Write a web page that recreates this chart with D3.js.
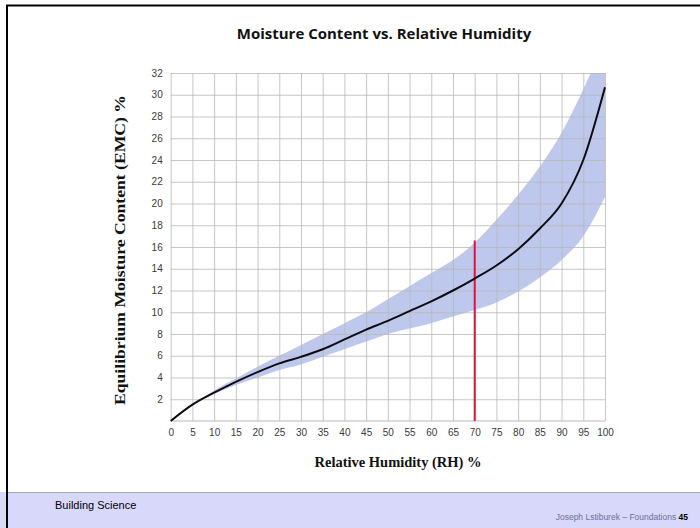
<!DOCTYPE html>
<html>
<head>
<meta charset="utf-8">
<script src="https://cdn.jsdelivr.net/npm/d3@7"></script>
<style>
  html, body { margin: 0; padding: 0; background: #fff; }
  svg { display: block; }
</style>
</head>
<body>
<div id="wrapper"></div>
<script>
// relative humidity (x) and equilibrium moisture content (y)
const rhValues = [0, 5, 10, 15, 20, 25, 30, 35, 40, 45, 50, 55, 60, 65, 70, 75, 80, 85, 90, 95, 100]
const emcValues = [0, 1.5, 2.6, 3.6, 4.5, 5.3, 5.9, 6.6, 7.5, 8.4, 9.2, 10.1, 11.0, 12.0, 13.1, 14.3, 15.8, 17.7, 20.0, 24.0, 30.7]

// shaded range around the curve
const bandRh = [8, 10, 15, 20, 25, 30, 35, 40, 45, 50, 55, 60, 65, 70, 75, 80, 85, 90, 95, 100]
const bandUpper = [2.3, 2.8, 3.9, 5.0, 6.0, 7.0, 8.0, 9.0, 10.0, 11.2, 12.4, 13.6, 14.8, 16.4, 18.5, 20.8, 23.4, 26.5, 30.5, 35]
const bandLower = [2.2, 2.5, 3.3, 4.0, 4.7, 5.2, 5.9, 6.6, 7.3, 8.0, 8.5, 9.0, 9.6, 10.2, 10.9, 11.9, 13.2, 14.8, 17.0, 20.6]

const markerRh = 70
const markerTop = 16.6

const xTicks = d3.range(0, 101, 5)
const yTicks = d3.range(2, 33, 2)

const dimensions = {
    width: 700,
    height: 528,
    plotLeft: 170.7,
    plotRight: 605,
    plotTop: 73,
    plotBottom: 421,
}

const svg = d3.select("#wrapper")
              .append("svg")
              .attr("width", dimensions.width)
              .attr("height", dimensions.height)

// slide frame + footer
svg.append("rect")
   .attr("x", 0).attr("y", 492)
   .attr("width", dimensions.width).attr("height", 36)
   .attr("fill", "#d8d8fb")
svg.append("line")
   .attr("x1", 7).attr("x2", dimensions.width)
   .attr("y1", 492.5).attr("y2", 492.5)
   .attr("stroke", "#a7a7c6").attr("stroke-width", 1)
svg.append("path")
   .attr("d", `M7,528 V5.5 H${dimensions.width}`)
   .attr("fill", "none")
   .attr("stroke", "#000").attr("stroke-width", 2)

svg.append("text")
   .attr("x", 55).attr("y", 509)
   .attr("font-family", "Liberation Sans, Arial, sans-serif")
   .attr("font-size", 11)
   .attr("fill", "#000")
   .text("Building Science")

const footerRight = svg.append("text")
   .attr("x", 688).attr("y", 520)
   .attr("text-anchor", "end")
   .attr("font-family", "Liberation Sans, Arial, sans-serif")
   .attr("font-size", 8.5)
footerRight.append("tspan").attr("fill", "#6e6e98").text("Joseph Lstiburek – Foundations  ")
footerRight.append("tspan").attr("fill", "#000").attr("font-weight", "bold").text("45")

// chart
const xScale = d3.scaleLinear()
                 .domain([0, 100])
                 .range([dimensions.plotLeft, dimensions.plotRight])

const yScale = d3.scaleLinear()
                 .domain([0, 32])
                 .range([dimensions.plotBottom, dimensions.plotTop])

svg.append("defs").append("clipPath")
   .attr("id", "plot-clip")
   .append("rect")
   .attr("x", dimensions.plotLeft)
   .attr("y", dimensions.plotTop)
   .attr("width", dimensions.plotRight - dimensions.plotLeft)
   .attr("height", dimensions.plotBottom - dimensions.plotTop)

// band (drawn under the grid so the lines show through)
const bandData = bandRh.map((rh, i) => ({rh, lo: bandLower[i], hi: bandUpper[i]}))
const area = d3.area()
               .x(d => xScale(d.rh))
               .y0(d => yScale(d.lo))
               .y1(d => yScale(d.hi))
               .curve(d3.curveMonotoneX)

svg.append("path")
   .datum(bandData)
   .attr("clip-path", "url(#plot-clip)")
   .attr("d", area)
   .attr("fill", "#bec8ec")

// grid
const xGrid = svg.append("g")
   .attr("transform", `translate(0, ${dimensions.plotBottom})`)
   .call(d3.axisBottom(xScale).tickValues(xTicks)
           .tickSize(-(dimensions.plotBottom - dimensions.plotTop))
           .tickPadding(8).tickFormat(d3.format("d")))
xGrid.select(".domain").remove()
xGrid.selectAll(".tick line").attr("stroke", "#b8b8b8").attr("stroke-opacity", 0.8)
xGrid.selectAll(".tick text")
     .attr("fill", "#3a3a3a")
     .attr("font-family", "Liberation Sans, Arial, sans-serif")
     .attr("font-size", 10)

const yGrid = svg.append("g")
   .attr("transform", `translate(${dimensions.plotLeft}, 0)`)
   .call(d3.axisLeft(yScale).tickValues(yTicks)
           .tickSize(-(dimensions.plotRight - dimensions.plotLeft))
           .tickPadding(8).tickFormat(d3.format("d")))
yGrid.select(".domain").remove()
yGrid.selectAll(".tick line").attr("stroke", "#b8b8b8").attr("stroke-opacity", 0.8)
yGrid.selectAll(".tick text")
     .attr("fill", "#3a3a3a")
     .attr("font-family", "Liberation Sans, Arial, sans-serif")
     .attr("font-size", 10)

svg.append("line")
   .attr("x1", dimensions.plotLeft).attr("x2", dimensions.plotRight)
   .attr("y1", dimensions.plotBottom).attr("y2", dimensions.plotBottom)
   .attr("stroke", "#b8b8b8")

// red marker
svg.append("line")
   .attr("x1", xScale(markerRh)).attr("x2", xScale(markerRh))
   .attr("y1", yScale(0)).attr("y2", yScale(markerTop))
   .attr("stroke", "#e0123f")
   .attr("stroke-width", 2)

// emc curve
const curveData = rhValues.map((rh, i) => ({rh, emc: emcValues[i]}))
const line = d3.line()
               .x(d => xScale(d.rh))
               .y(d => yScale(d.emc))
               .curve(d3.curveMonotoneX)

svg.append("path")
   .datum(curveData)
   .attr("d", line)
   .attr("fill", "none")
   .attr("stroke", "#0c0c14")
   .attr("stroke-width", 2)

// titles
svg.append("text")
   .attr("x", 384).attr("y", 39)
   .attr("text-anchor", "middle")
   .attr("font-family", "Open Sans, sans-serif")
   .attr("font-weight", "bold")
   .attr("font-size", 15)
   .attr("fill", "#111")
   .text("Moisture Content vs. Relative Humidity")

svg.append("text")
   .attr("x", 398).attr("y", 467)
   .attr("text-anchor", "middle")
   .attr("font-family", "Liberation Serif, serif")
   .attr("font-weight", "bold")
   .attr("font-size", 14)
   .attr("textLength", 167)
   .attr("lengthAdjust", "spacingAndGlyphs")
   .attr("fill", "#111")
   .text("Relative Humidity (RH) %")

svg.append("text")
   .attr("transform", `translate(125, 250) rotate(-90)`)
   .attr("text-anchor", "middle")
   .attr("font-family", "Liberation Serif, serif")
   .attr("font-weight", "bold")
   .attr("font-size", 14)
   .attr("textLength", 310)
   .attr("lengthAdjust", "spacingAndGlyphs")
   .attr("fill", "#111")
   .text("Equilibrium Moisture Content (EMC) %")
</script>
</body>
</html>
